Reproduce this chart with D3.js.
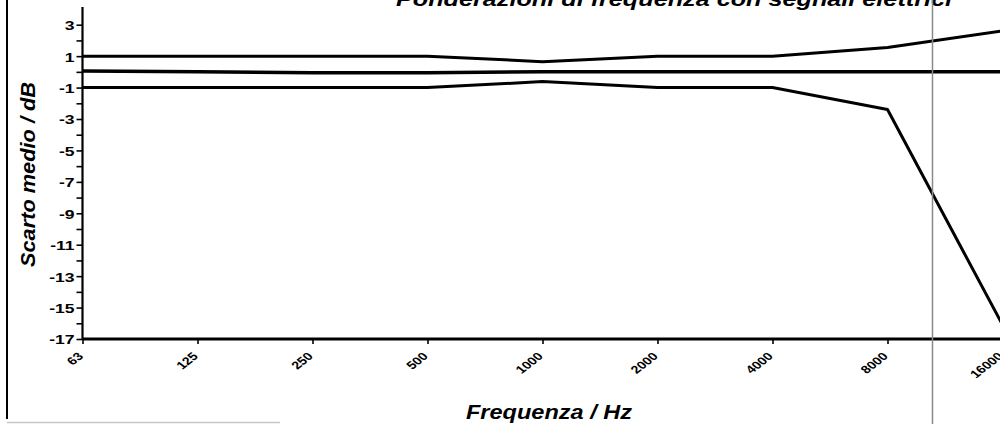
<!DOCTYPE html>
<html><head><meta charset="utf-8">
<script src="https://cdn.jsdelivr.net/npm/d3@7"></script>
<style>
html,body{margin:0;padding:0;background:#fff;}
svg{display:block;}
text{font-family:"Liberation Sans",Arial,sans-serif;font-weight:bold;fill:#000;}
</style></head>
<body>
<svg id="c" width="1000" height="424"></svg>
<script>
const categories = ["63","125","250","500","1000","2000","4000","8000","16000"];
const upperLimit = [1, 1, 1, 1, 0.65, 1, 1, 1.55, 2.6];
const meanDev    = [0.05, 0, -0.05, -0.05, 0, 0, 0, 0, 0];
const lowerLimit = [-1, -1, -1, -1, -0.62, -1, -1, -2.4, -16.1];
const yTickLabels = [3, 1, -1, -3, -5, -7, -9, -11, -13, -15, -17];
const title = "Ponderazioni di frequenza con segnali elettrici";
const xTitle = "Frequenza / Hz";
const yTitle = "Scarto medio / dB";

const svg = d3.select("#c");
const x = d3.scalePoint().domain(categories).range([82.5, 1002.5]);
const y = d3.scaleLinear().domain([-17, 4]).range([339, 9]);
const stretch = 1.3; // the scanned source is stretched horizontally

// scan artefacts: left border, bottom edge
svg.append("line").attr("x1",7).attr("x2",7).attr("y1",0).attr("y2",419)
  .attr("stroke","#000").attr("stroke-width",2);
svg.append("line").attr("x1",7).attr("x2",280).attr("y1",422.5).attr("y2",422.5)
  .attr("stroke","#c8c8c8").attr("stroke-width",1.5);

// title (clipped at top)
svg.append("text").attr("x",674).attr("y",6).attr("text-anchor","middle")
  .attr("font-size",21).attr("font-style","italic").attr("textLength",556)
  .attr("lengthAdjust","spacingAndGlyphs").text(title);

// y axis
const yAxis = d3.axisLeft(y).tickValues(d3.range(-17, 4, 1)).tickSize(6)
  .tickFormat(d => yTickLabels.includes(d) ? d : "");
const gy = svg.append("g").attr("transform","translate(82.5,0)").call(yAxis);
gy.attr("font-size",13.5).attr("font-family",null);
gy.select(".domain").attr("stroke-width",2.2).attr("d","M0,7V339");
gy.selectAll(".tick line").attr("stroke-width",1.6);
gy.selectAll(".tick text").attr("x",-8/stretch).attr("dy","0.36em")
  .attr("transform",`scale(${stretch},1)`);

// x axis
const xAxis = d3.axisBottom(x).tickSize(5).tickSizeOuter(0);
const gx = svg.append("g").attr("transform","translate(0,339)").call(xAxis);
gx.attr("font-size",11).attr("font-family",null);
gx.select(".domain").attr("stroke-width",3).attr("d","M82.5,0H1000");
gx.selectAll(".tick line").attr("stroke-width",1.6);
gx.selectAll(".tick text")
  .attr("text-anchor","end").attr("dy",null).attr("y",0)
  .attr("transform",`translate(1,18) scale(${stretch},1) rotate(-45)`);

// axis titles
svg.append("text").attr("x",549).attr("y",419).attr("text-anchor","middle")
  .attr("font-size",20).attr("font-style","italic").attr("textLength",166)
  .attr("lengthAdjust","spacingAndGlyphs").text(xTitle);
svg.append("text").attr("transform","translate(35,174.5) rotate(-90)").attr("text-anchor","middle")
  .attr("font-size",20).attr("font-style","italic").attr("textLength",185)
  .attr("lengthAdjust","spacingAndGlyphs").text(yTitle);

// series
const line = d3.line().x((d,i)=>x(categories[i])).y(d=>y(d));
const plot = svg.append("g");
[upperLimit, meanDev, lowerLimit].forEach((s,k)=>{
  plot.append("path").datum(s).attr("d",line).attr("fill","none")
    .attr("stroke","#000").attr("stroke-width",k===1?3.5:3).attr("stroke-linejoin","round");
});

// vertical fold line of the scan
svg.append("line").attr("x1",932.5).attr("x2",932.5).attr("y1",0).attr("y2",424)
  .attr("stroke","#8a8a8a").attr("stroke-width",1.5);
</script>
</body></html>
